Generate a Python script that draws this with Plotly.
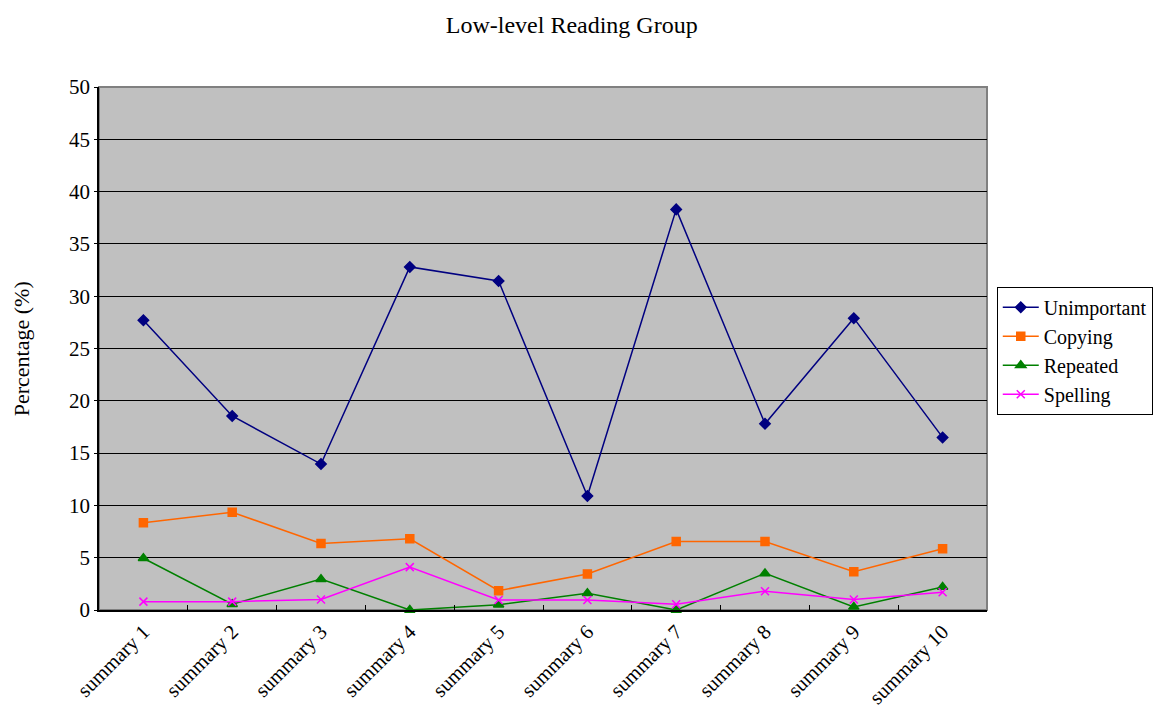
import plotly.graph_objects as go

# Categories and percentage values per error type
summaries = [f"summary {i}" for i in range(1, 11)]
unimportant = [27.7, 18.55, 13.95, 32.8, 31.45, 10.9, 38.3, 17.8, 27.9, 16.5]
copying = [8.35, 9.35, 6.35, 6.8, 1.85, 3.45, 6.55, 6.55, 3.65, 5.85]
repeated = [4.95, 0.55, 2.95, 0.0, 0.5, 1.6, 0.0, 3.5, 0.3, 2.2]
spelling = [0.8, 0.8, 1.0, 4.1, 0.95, 0.95, 0.55, 1.8, 1.0, 1.7]
y_ticks = list(range(0, 55, 5))

FONT = "Liberation Serif, Times New Roman, serif"

series = [
    ("Unimportant", unimportant, "#000080", "diamond", 8),
    ("Copying", copying, "#FF6600", "square", 8),
    ("Repeated", repeated, "#008000", "triangle-up", 9),
    ("Spelling", spelling, "#FF00FF", "x-thin-open", 8),
]

fig = go.Figure()
for name, vals, color, symbol, size in series:
    fig.add_trace(go.Scatter(
        x=summaries, y=vals, name=name, mode="lines+markers",
        line=dict(color=color, width=1.5),
        marker=dict(symbol=symbol, size=size, color=color,
                    line=dict(color=color, width=1.5)),
        cliponaxis=False,
    ))

fig.update_layout(
    width=1155, height=713,
    margin=dict(l=99, r=168, t=87, b=103, autoexpand=False),
    paper_bgcolor="white",
    plot_bgcolor="#C0C0C0",
    font=dict(family=FONT, size=20, color="black"),
    title=dict(text="Low-level Reading Group", x=0.495, xanchor="center",
               y=0.966, yanchor="middle", font=dict(family=FONT, size=24)),
    showlegend=True,
    legend=dict(x=1.011, y=0.618, xanchor="left", yanchor="top",
                bordercolor="black", borderwidth=1, bgcolor="white",
                font=dict(family=FONT, size=20), tracegroupgap=0,
                itemwidth=36),
    shapes=[dict(type="rect", xref="paper", yref="paper", x0=0, x1=1, y0=0, y1=1,
                 line=dict(color="#808080", width=2), layer="below")],
    annotations=[dict(text="Percentage (%)", textangle=-90, showarrow=False,
                      xref="paper", yref="paper", x=-0.087, y=0.5,
                      xanchor="center", yanchor="middle",
                      font=dict(family=FONT, size=22))],
)

fig.update_xaxes(
    type="category", range=[-0.5, 9.5], showgrid=False, showline=True,
    linecolor="black", linewidth=1.5, automargin=False,
    ticks="inside", tickson="boundaries", ticklen=5, tickcolor="black",
    tickangle=-45, tickfont=dict(family=FONT, size=20.5), mirror=False,
)
fig.update_yaxes(
    range=[0, 50], tickvals=y_ticks, showgrid=True, gridcolor="black", gridwidth=1,
    showline=True, linecolor="black", linewidth=1.5, zeroline=False,
    automargin=False,
    ticks="outside", ticklen=3, tickcolor="black",
    tickfont=dict(family=FONT, size=21),
)

fig.write_html("out.html")
